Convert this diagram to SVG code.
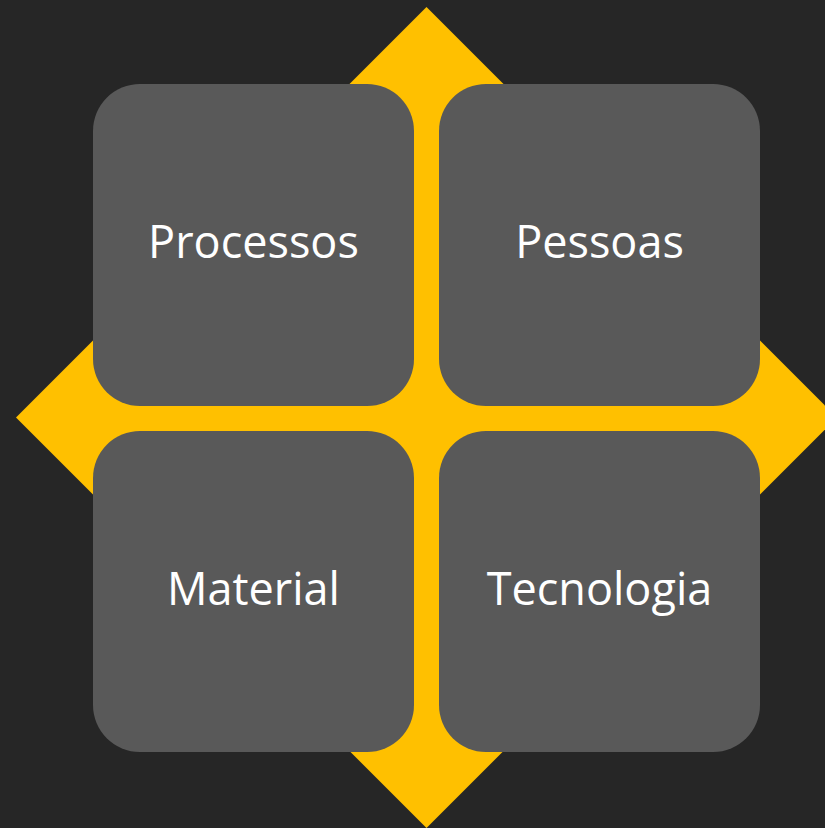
<svg xmlns="http://www.w3.org/2000/svg" width="825" height="828" viewBox="0 0 825 828">
  <style>
    .box { fill: #595959; }
    .label { fill: #ffffff; font-family: "Open Sans", "Liberation Sans", sans-serif; font-size: 45px; text-anchor: middle; }
  </style>
  <rect width="825" height="828" fill="#262626"/>
  <!-- central diamond -->
  <polygon points="426.5,7 837,417.5 426.5,828 16,417.5" fill="#ffc000"/>
  <g id="processos">
    <rect class="box" x="93" y="84" width="321" height="322" rx="47"/>
    <text class="label" x="253.5" y="258">Processos</text>
  </g>
  <g id="pessoas">
    <rect class="box" x="439" y="84" width="321" height="322" rx="47"/>
    <text class="label" x="599.5" y="258">Pessoas</text>
  </g>
  <g id="material">
    <rect class="box" x="93" y="431" width="321" height="321" rx="47"/>
    <text class="label" x="253.5" y="605">Material</text>
  </g>
  <g id="tecnologia">
    <rect class="box" x="439" y="431" width="321" height="321" rx="47"/>
    <text class="label" x="599.5" y="605">Tecnologia</text>
  </g>
</svg>
